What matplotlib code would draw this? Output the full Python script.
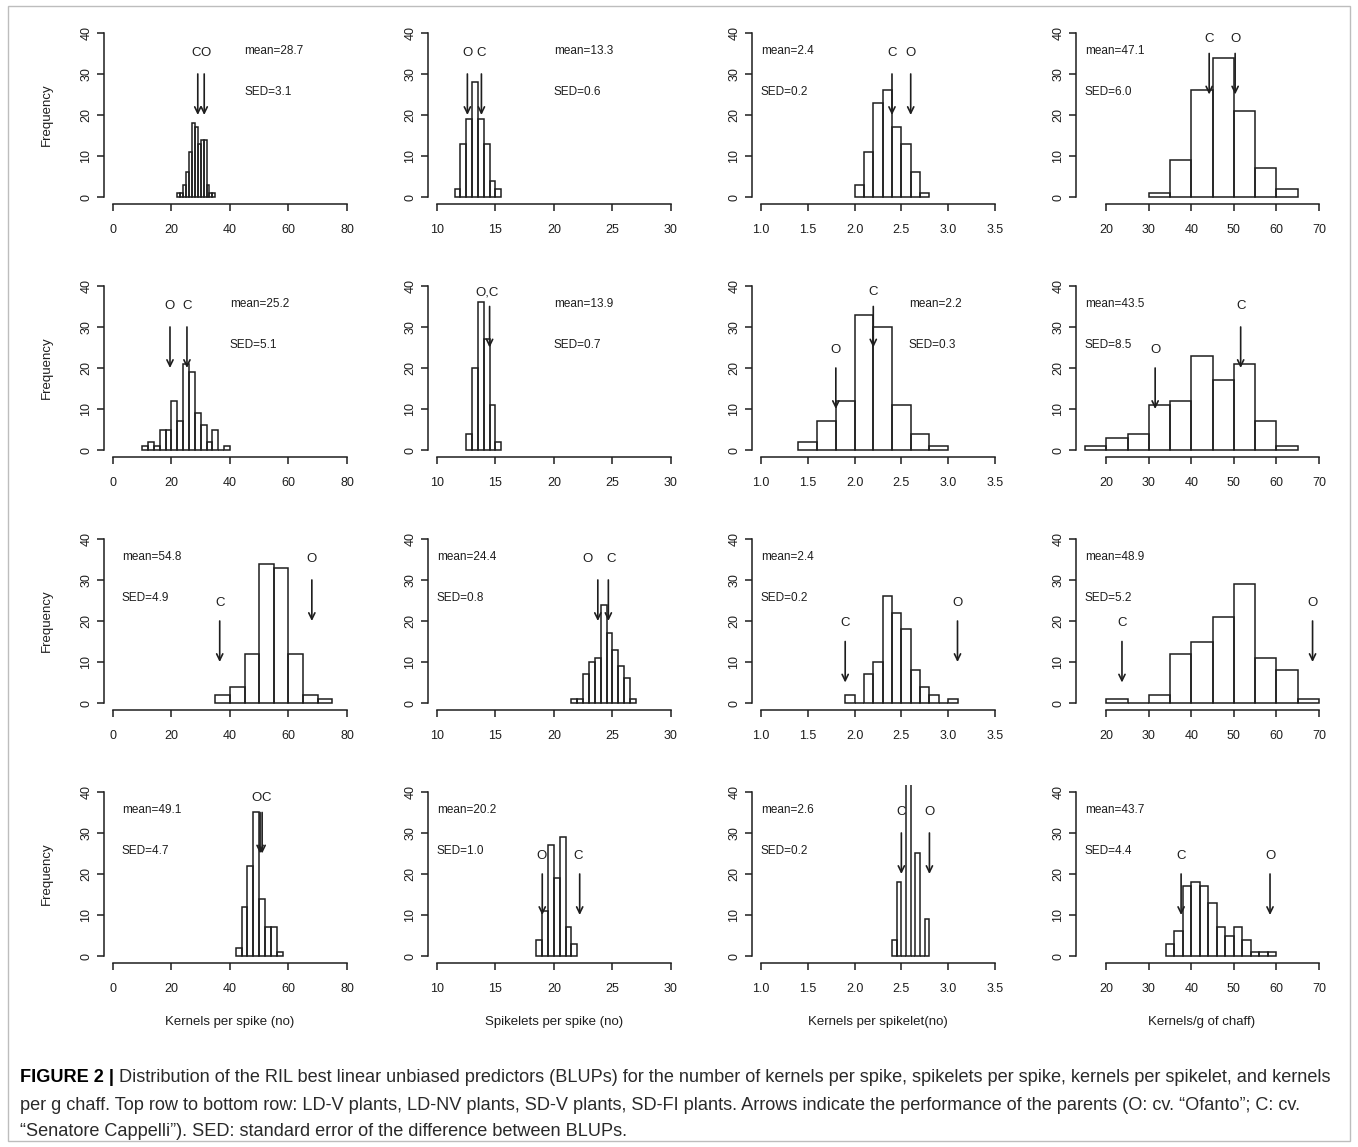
import matplotlib
matplotlib.use("Agg")
import matplotlib.pyplot as plt
from matplotlib import font_manager
from matplotlib.patches import Rectangle, ArrowStyle

plt.rcParams["font.family"] = ["Liberation Sans", "DejaVu Sans"]

W, H = 1358, 1147
INK = "#1e1e1e"

TRAITS = ["Kernels per spike (no)", "Spikelets per spike (no)",
          "Kernels per spikelet(no)", "Kernels/g of chaff)"]
XLIMS = [(0, 80), (10, 30), (1.0, 3.5), (15, 70)]
XTICKS = [[0, 20, 40, 60, 80], [10, 15, 20, 25, 30],
          [1.0, 1.5, 2.0, 2.5, 3.0, 3.5], [20, 30, 40, 50, 60, 70]]
XTICKLABELS = [["0", "20", "40", "60", "80"], ["10", "15", "20", "25", "30"],
               ["1.0", "1.5", "2.0", "2.5", "3.0", "3.5"],
               ["20", "30", "40", "50", "60", "70"]]

# first break and bin width of every histogram (rows: LD-V, LD-NV, SD-V, SD-FI)
BIN_START = [[22, 11.5, 2.0, 30], [10, 12.5, 1.4, 15],
             [35, 21.5, 1.9, 20], [42, 18.5, 2.4, 34]]
BIN_WIDTH = [[1, 0.5, 0.1, 5], [2, 0.5, 0.2, 5],
             [5, 0.5, 0.1, 5], [2, 0.5, 0.05, 2]]
COUNTS = [
    [[1, 1, 3, 6, 11, 18, 17, 13, 14, 14, 3, 1, 1],
     [2, 13, 19, 28, 19, 13, 4, 2],
     [3, 11, 23, 26, 17, 13, 6, 1],
     [1, 9, 26, 34, 21, 7, 2]],
    [[1, 2, 1, 5, 5, 12, 7, 21, 19, 9, 6, 2, 5, 0, 1],
     [4, 20, 36, 27, 11, 2],
     [2, 7, 12, 33, 30, 11, 4, 1],
     [1, 3, 4, 11, 12, 23, 17, 21, 7, 1]],
    [[2, 4, 12, 34, 33, 12, 2, 1],
     [1, 1, 7, 10, 11, 24, 17, 13, 9, 6, 1],
     [2, 0, 7, 10, 26, 22, 18, 8, 4, 2, 0, 1],
     [1, 0, 2, 12, 15, 21, 29, 11, 8, 1]],
    [[2, 12, 22, 35, 14, 7, 7, 1],
     [4, 11, 27, 19, 29, 7, 3],
     [4, 18, 0, 44, 0, 25, 0, 9],
     [3, 6, 17, 18, 17, 13, 7, 5, 7, 4, 1, 1, 1]],
]
MEANS = [[28.7, 13.3, 2.4, 47.1], [25.2, 13.9, 2.2, 43.5],
         [54.8, 24.4, 2.4, 48.9], [49.1, 20.2, 2.6, 43.7]]
SEDS = [[3.1, 0.6, 0.2, 6.0], [5.1, 0.7, 0.3, 8.5],
        [4.9, 0.8, 0.2, 5.2], [4.7, 1.0, 0.2, 4.4]]
STATS_X = [[45, 20, 1.0, 15], [40, 20, 2.58, 15],
           [3, 10, 1.0, 15], [3, 10, 1.0, 15]]

# parents: (label, label x, arrow x, arrow top, arrow tip, label y)
PARENTS = [
    [[("C", 28.6, 29.0, 30, 20, 35), ("O", 31.7, 31.2, 30, 20, 35)],
     [("O", 12.6, 12.6, 30, 20, 35), ("C", 13.8, 13.8, 30, 20, 35)],
     [("C", 2.4, 2.4, 30, 20, 35), ("O", 2.6, 2.6, 30, 20, 35)],
     [("C", 44.2, 44.2, 35, 25, 38.5), ("O", 50.3, 50.3, 35, 25, 38.5)]],
    [[("O", 19.5, 19.5, 30, 20, 35), ("C", 25.3, 25.3, 30, 20, 35)],
     [("O,C", 14.3, 14.5, 35, 25, 38.5)],
     [("O", 1.8, 1.8, 20, 10, 24.5), ("C", 2.2, 2.2, 35, 25, 38.5)],
     [("O", 31.5, 31.5, 20, 10, 24.5), ("C", 51.6, 51.6, 30, 20, 35)]],
    [[("C", 36.5, 36.5, 20, 10, 24.5), ("O", 68.0, 68.0, 30, 20, 35)],
     [("O", 22.9, 23.75, 30, 20, 35), ("C", 24.85, 24.65, 30, 20, 35)],
     [("C", 1.9, 1.9, 15, 5, 19.5), ("O", 3.1, 3.1, 20, 10, 24.5)],
     [("C", 23.7, 23.7, 15, 5, 19.5), ("O", 68.5, 68.5, 20, 10, 24.5)]],
    [[("O", 49.0, 50.3, 35, 25, 38.5), ("C", 52.4, 51.0, 35, 25, 38.5)],
     [("O", 18.9, 19.0, 20, 10, 24.5), ("C", 22.1, 22.2, 20, 10, 24.5)],
     [("C", 2.5, 2.5, 30, 20, 35), ("O", 2.8, 2.8, 30, 20, 35)],
     [("C", 37.6, 37.6, 20, 10, 24.5), ("O", 58.5, 58.5, 20, 10, 24.5)]],
]

CAPTION = [
    [("FIGURE 2 |", True),
     (" Distribution of the RIL best linear unbiased predictors (BLUPs) for the number of kernels "
      "per spike, spikelets per spike, kernels per spikelet, and kernels", False)],
    [("per g chaff. Top row to bottom row: LD-V plants, LD-NV plants, SD-V plants, SD-FI plants. "
      "Arrows indicate the performance of the parents (O: cv. \u201cOfanto\u201d; C: cv.", False)],
    [("\u201cSenatore Cappelli\u201d). SED: standard error of the difference between BLUPs.", False)],
]

# panel geometry in pixels
AX_LEFT, AX_STEP_X, AX_W = 103.6, 324, 252.7
AX_TOP, AX_STEP_Y, AX_H = 26.4, 253, 177.2

fig = plt.figure(figsize=(W / 100, H / 100), dpi=100)
head = ArrowStyle("->", head_length=0.45, head_width=0.22)

for r in range(4):
    for c in range(4):
        left = AX_LEFT + c * AX_STEP_X
        top = AX_TOP + r * AX_STEP_Y
        ax = fig.add_axes([left / W, 1 - (top + AX_H) / H, AX_W / W, AX_H / H])
        counts = COUNTS[r][c]
        w = BIN_WIDTH[r][c]
        starts = [BIN_START[r][c] + i * w for i in range(len(counts))]
        ax.bar(starts, counts, width=w, align="edge", fill=False,
               edgecolor=INK, linewidth=1.1)

        x0, x1 = XLIMS[c]
        pad = 0.04 * (x1 - x0)
        ax.set_xlim(x0 - pad, x1 + pad)
        ax.set_ylim(-1.6, 41.6)
        for s in ("top", "right"):
            ax.spines[s].set_visible(False)
        ax.spines["left"].set_bounds(0, 40)
        ax.spines["bottom"].set_bounds(XTICKS[c][0], XTICKS[c][-1])
        for s in ("left", "bottom"):
            ax.spines[s].set_linewidth(1.1)
            ax.spines[s].set_color(INK)
        ax.set_xticks(XTICKS[c])
        ax.set_xticklabels(XTICKLABELS[c])
        ax.set_yticks([0, 10, 20, 30, 40])
        ax.set_yticklabels(["0", "10", "20", "30", "40"], rotation=90, va="center")
        ax.tick_params(length=5, width=1.1, color=INK, labelsize=9, labelcolor=INK)
        ax.tick_params(axis="x", pad=10)
        ax.tick_params(axis="y", pad=3)

        ax.text(STATS_X[r][c], 35.7, f"mean={MEANS[r][c]:.1f}", fontsize=8.5,
                color=INK, ha="left", va="center")
        ax.text(STATS_X[r][c], 25.7, f"SED={SEDS[r][c]:.1f}", fontsize=8.5,
                color=INK, ha="left", va="center")

        for lab, lx, axx, ytop, ytip, ly in PARENTS[r][c]:
            ax.annotate("", xy=(axx, ytip), xytext=(axx, ytop),
                        arrowprops=dict(arrowstyle=head, color=INK, lw=1.2,
                                        shrinkA=0, shrinkB=0, mutation_scale=10))
            ax.text(lx, ly, lab, fontsize=9.5, color=INK, ha="center", va="center")

        if c == 0:
            ax.text((47 - left) / AX_W, 0.5, "Frequency", transform=ax.transAxes,
                    rotation=90, fontsize=9.5, color=INK, ha="center", va="center")
        if r == 3:
            fig.text((left + AX_W / 2) / W, 1 - 1022 / H, TRAITS[c], fontsize=9.5,
                     color=INK, ha="center", va="center")

# caption, with the bold figure number
try:
    font_manager.findfont("Liberation Sans Narrow", fallback_to_default=False)
    CAP_FONT = ["Liberation Sans Narrow", "DejaVu Sans"]
except ValueError:
    CAP_FONT = ["Liberation Sans", "DejaVu Sans"]

renderer = fig.canvas.get_renderer()


def caption_line(y_px, parts, size):
    x = 20.0
    texts = []
    for txt, bold in parts:
        t = fig.text(x / W, 1 - y_px / H, txt, fontsize=size, family=CAP_FONT,
                     fontweight="bold" if bold else "normal",
                     color="#000000" if bold else "#2a2a2a", ha="left", va="center")
        x += t.get_window_extent(renderer).width
        texts.append(t)
    return x - 20.0, texts


width, probe = caption_line(1078, CAPTION[0], 12)
for t in probe:
    t.remove()
cap_size = 12 * 1318 / width
for y_px, parts in zip([1078, 1105, 1132], CAPTION):
    caption_line(y_px, parts, cap_size)

fig.add_artist(Rectangle((8 / W, 1 - 1141 / H), (1350 - 8) / W, (1141 - 6) / H,
                         transform=fig.transFigure, fill=False,
                         edgecolor="#bdbdbd", linewidth=1.0))

fig.savefig("out.png", dpi=100)
